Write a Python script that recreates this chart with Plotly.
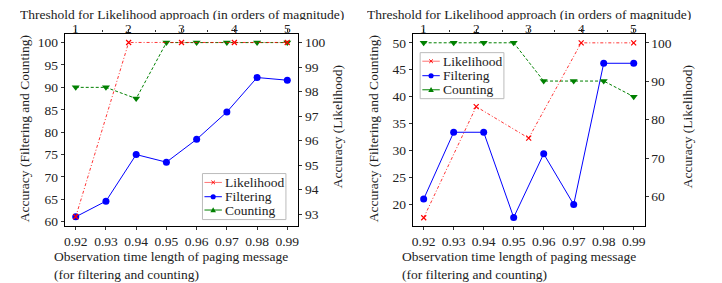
import plotly.graph_objects as go

obs_x = [0.92, 0.93, 0.94, 0.95, 0.96, 0.97, 0.98, 0.99]
thr_x = [1, 2, 3, 4, 5]
thr_labels = ["1", "2", "3", "4", "5"]

# Left chart
L_filtering = [61.1, 64.6, 75.0, 73.3, 78.4, 84.5, 92.2, 91.6]
L_counting = [90.0, 90.0, 87.5, 100.0, 100.0, 100.0, 100.0, 100.0]
L_likelihood = [92.9, 100.0, 100.0, 100.0, 100.0]

# Right chart
R_filtering = [21.0, 33.4, 33.4, 17.6, 29.4, 20.0, 46.2, 46.2]
R_counting = [50.0, 50.0, 50.0, 50.0, 42.9, 42.9, 42.9, 40.0]
R_likelihood = [54.5, 83.4, 75.2, 100.0, 100.0]

series_names = ["Likelihood", "Filtering", "Counting"]

FONT = "Liberation Serif"
OFF = 8                      # default body margin of the html page
W, H = 722 - OFF, 283 - OFF  # figure size
RED = "#ff0000"
BLUE = "#0000ff"
GREEN = "#008000"
TXT = "#222222"


def px(x):
    return (x - OFF) / W


def py(y):
    return 1 - (y - OFF) / H


fig = go.Figure()


def add_panel(xa, ya, xa2, ya2, filt, cnt, lik):
    fig.add_trace(go.Scatter(x=obs_x, y=filt, name="Filtering", mode="lines+markers",
                             xaxis=xa, yaxis=ya,
                             line=dict(color=BLUE, width=1),
                             marker=dict(symbol="circle", size=7, color=BLUE)))
    fig.add_trace(go.Scatter(x=obs_x, y=cnt, name="Counting", mode="lines+markers",
                             xaxis=xa, yaxis=ya,
                             line=dict(color=GREEN, width=1, dash="3px,2px"),
                             marker=dict(symbol="triangle-down", size=7, color=GREEN)))
    fig.add_trace(go.Scatter(x=thr_x, y=lik, name="Likelihood", mode="lines+markers",
                             xaxis=xa2, yaxis=ya2,
                             line=dict(color=RED, width=0.8, dash="3px,2px,1px,2px"),
                             marker=dict(symbol="x-thin", size=5, color=RED,
                                         line=dict(color=RED, width=1.2))))


add_panel("x", "y", "x2", "y2", L_filtering, L_counting, L_likelihood)
add_panel("x3", "y3", "x4", "y4", R_filtering, R_counting, R_likelihood)

tickfont = dict(family=FONT, size=13.5, color=TXT)
common = dict(showline=True, linecolor="black", linewidth=1.3, ticks="outside",
              ticklen=3, tickcolor="#333", showgrid=False, zeroline=False,
              tickfont=tickfont)

yd = [py(229), py(34)]
dL = [px(64), px(298)]
dR = [px(413), px(645.3)]

bx_range = [0.9164, 0.9936]
tx_range = [0.793, 5.207]
minor_top = dict(tickvals=[1.5, 2.5, 3.5, 4.5], ticklen=2.5, ticks="outside", tickcolor="#333")

fig.update_layout(
    width=W, height=H,
    margin=dict(l=0, r=0, t=0, b=0),
    paper_bgcolor="white", plot_bgcolor="white",
    font=dict(family=FONT, size=13.5, color=TXT),
    showlegend=False,
    xaxis=dict(domain=dL, range=bx_range, tickvals=obs_x,
               ticktext=[f"{v:.2f}" for v in obs_x], anchor="y", **common),
    xaxis2=dict(overlaying="x", side="top", anchor="y", range=tx_range,
                tickvals=thr_x, showticklabels=False, minor=minor_top, **common),
    yaxis=dict(domain=yd, range=[59.1, 102.0], tickvals=[60, 65, 70, 75, 80, 85, 90, 95, 100],
               anchor="x", **common),
    yaxis2=dict(overlaying="y", side="right", anchor="x", range=[92.53, 100.36],
                tickvals=[93, 94, 95, 96, 97, 98, 99, 100], **common),
    xaxis3=dict(domain=dR, range=bx_range, tickvals=obs_x,
                ticktext=[f"{v:.2f}" for v in obs_x], anchor="y3", **common),
    xaxis4=dict(overlaying="x3", side="top", anchor="y3", range=tx_range,
                tickvals=thr_x, showticklabels=False, minor=minor_top, **common),
    yaxis3=dict(domain=yd, range=[16.05, 51.7], tickvals=[20, 25, 30, 35, 40, 45, 50],
                anchor="x3", **common),
    yaxis4=dict(overlaying="y3", side="right", anchor="x3", range=[52.4, 102.4],
                tickvals=[60, 70, 80, 90, 100], **common),
)

ann_font = dict(family=FONT, size=13.5, color=TXT)
annotations = []
shapes = []
for cx, lx, yl, yr, topx in [(181, 51, 23, 337, "x2"), (529, 400, 373, 688, "x4")]:
    annotations.append(dict(text="Threshold for Likelihood approach (in orders of magnitude)",
                            x=px(cx), y=py(14), xref="paper", yref="paper",
                            height=12, borderpad=0, valign="middle",
                            xanchor="center", yanchor="middle", showarrow=False, font=ann_font))
    annotations.append(dict(text="Observation time length of paging message<br>(for filtering and counting)",
                            x=px(lx), y=py(269.5), xref="paper", yref="paper",
                            xanchor="left", yanchor="middle", align="left", showarrow=False,
                            font=ann_font))
    annotations.append(dict(text="Accuracy (Filtering and Counting)", textangle=-90,
                            x=px(yl), y=py(130), xref="paper", yref="paper",
                            xanchor="center", yanchor="middle", showarrow=False, font=ann_font))
    annotations.append(dict(text="Accuracy (Likelihood)", textangle=-90,
                            x=px(yr), y=py(129), xref="paper", yref="paper",
                            xanchor="center", yanchor="middle", showarrow=False, font=ann_font))
    # top-axis tick labels
    for v, lab in zip(thr_x, thr_labels):
        annotations.append(dict(text=lab, x=v, xref=topx, y=py(28.5), yref="paper",
                                height=11, borderpad=0, valign="middle",
                                xanchor="center", yanchor="middle", showarrow=False,
                                font=ann_font))

# Legends (drawn as boxes with sample lines, markers and labels)
legend_specs = [
    # box x0, x1, y0, y1, row y centres, line x0, x1, text x
    (202, 285.7, 176, 222.7, [185, 199.5, 213], 204, 221.5, 223),
    (420.3, 504.3, 53.3, 100, [62, 76.7, 91], 422.5, 440, 441),
]
line_styles = [(RED, "dashdot"), (BLUE, "solid"), (GREEN, "solid")]
for bx0, bx1, by0, by1, rows, lx0, lx1, tx in legend_specs:
    shapes.append(dict(type="rect", xref="paper", yref="paper",
                       x0=px(bx0), x1=px(bx1), y0=py(by1), y1=py(by0),
                       line=dict(color="#bbbbbb", width=1), fillcolor="white", layer="above"))
    for name, ry, (col, dash) in zip(series_names, rows, line_styles):
        lcol = "rgba(255,80,80,0.8)" if col == RED else col
        shapes.append(dict(type="line", xref="paper", yref="paper",
                           x0=px(lx0), x1=px(lx1), y0=py(ry), y1=py(ry),
                           line=dict(color=lcol, width=1), layer="above"))
        mx = (lx0 + lx1) / 2
        if name == "Filtering":
            r = 2.6
            shapes.append(dict(type="circle", xref="paper", yref="paper",
                               x0=px(mx - r), x1=px(mx + r), y0=py(ry + r), y1=py(ry - r),
                               fillcolor=BLUE, line=dict(color=BLUE, width=0), layer="above"))
        elif name == "Counting":
            s = 2.8
            path = (f"M {px(mx - s)} {py(ry + s * 0.8)} L {px(mx + s)} {py(ry + s * 0.8)} "
                    f"L {px(mx)} {py(ry - s * 1.0)} Z")
            shapes.append(dict(type="path", xref="paper", yref="paper", path=path,
                               fillcolor=GREEN, line=dict(color=GREEN, width=0), layer="above"))
        else:
            s = 1.8
            for a, b in [(-1, 1), (1, -1)]:
                shapes.append(dict(type="line", xref="paper", yref="paper",
                                   x0=px(mx - s), x1=px(mx + s),
                                   y0=py(ry + a * s), y1=py(ry + b * s),
                                   line=dict(color=RED, width=1), layer="above"))
        annotations.append(dict(text=name, x=px(tx), y=py(ry), xref="paper", yref="paper",
                                xanchor="left", yanchor="middle", showarrow=False,
                                font=ann_font))

fig.update_layout(annotations=annotations, shapes=shapes)

fig.write_html("out.html")
